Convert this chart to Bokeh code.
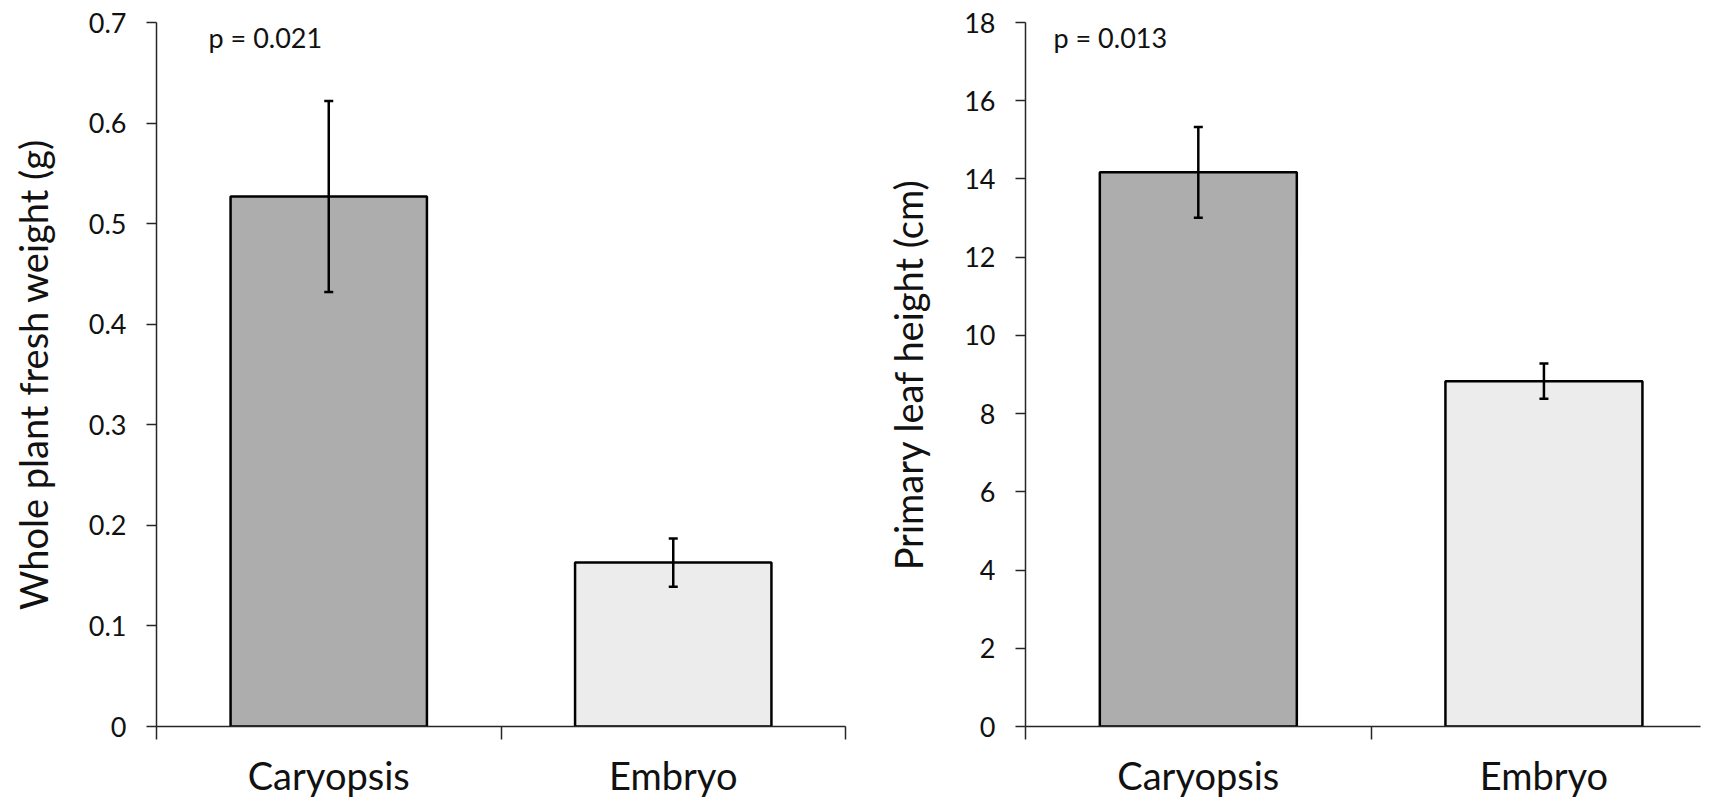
from bokeh.plotting import figure
from bokeh.models import (Range1d, FixedTicker, CustomJSTickFormatter, Whisker,
                          TeeHead, ColumnDataSource, Label)
from bokeh.layouts import row
from bokeh.embed import file_html
from bokeh.resources import INLINE

# ---- data ----
categories = ["Caryopsis", "Embryo"]
weight_mean = [0.527, 0.163]
weight_err = [0.095, 0.024]
height_mean = [14.17, 8.83]
height_err = [1.16, 0.45]
bar_colors = ["#adadad", "#ececec"]
weight_ticks = [0, 0.1, 0.2, 0.3, 0.4, 0.5, 0.6, 0.7]
height_ticks = [0, 2, 4, 6, 8, 10, 12, 14, 16, 18]
weight_label = "Whole plant fresh weight (g)"
height_label = "Primary leaf height (cm)"
p_texts = ["p = 0.021", "p = 0.013"]

FONT = "Lato"
TXT = "#111111"
AX = "#262626"
FIG_H = 800


def panel(means, errs, ticks, ylabel, ptext, pxy, width, bl, br, xend, fmt_code):
    n = len(categories)
    xs = [i + 0.5 for i in range(n)]
    src = ColumnDataSource(dict(
        x=xs, top=means, color=bar_colors[:n],
        upper=[m + e for m, e in zip(means, errs)],
        lower=[m - e for m, e in zip(means, errs)],
    ))
    p = figure(width=width, height=FIG_H, output_backend="svg", toolbar_location=None,
               x_range=Range1d(0, xend), y_range=Range1d(0, ticks[-1]),
               min_border_left=bl, min_border_right=br, min_border_top=22,
               min_border_bottom=FIG_H - 728, background_fill_color="white",
               border_fill_color="white")
    p.outline_line_color = None
    p.grid.grid_line_color = None

    p.vbar(x="x", top="top", width=0.57, bottom=0, source=src, fill_color="color",
           line_color="black", line_width=2.5)
    w = Whisker(base="x", upper="upper", lower="lower", source=src,
                line_color="black", line_width=2.5, level="overlay",
                upper_head=TeeHead(size=9, line_color="black", line_width=2.5),
                lower_head=TeeHead(size=9, line_color="black", line_width=2.5))
    p.add_layout(w)

    # y axis
    ya = p.yaxis[0]
    ya.ticker = FixedTicker(ticks=ticks, minor_ticks=[])
    ya.formatter = CustomJSTickFormatter(code=fmt_code)
    ya.axis_label = ylabel
    ya.axis_label_text_font = FONT
    ya.axis_label_text_font_size = "38px"
    ya.axis_label_text_font_style = "normal"
    ya.axis_label_text_color = TXT
    ya.axis_label_standoff = 30
    ya.major_label_text_font = FONT
    ya.major_label_text_font_size = "27px"
    ya.major_label_text_color = TXT
    ya.major_label_standoff = 20
    ya.major_tick_in = 0
    ya.major_tick_out = 10
    ya.minor_tick_in = 0
    ya.minor_tick_out = 0
    ya.axis_line_color = AX
    ya.axis_line_width = 1.5
    ya.major_tick_line_color = AX
    ya.major_tick_line_width = 1.5

    # x axis: labels at category centres, ticks at category boundaries
    xa = p.xaxis[0]
    xa.ticker = FixedTicker(ticks=xs, minor_ticks=list(range(n + 1)))
    xa.formatter = CustomJSTickFormatter(args=dict(cats=categories),
                                         code="return cats[Math.floor(tick)];")
    xa.major_label_text_font = FONT
    xa.major_label_text_font_size = "38px"
    xa.major_label_text_color = TXT
    xa.major_label_standoff = 12
    xa.major_tick_in = 0
    xa.major_tick_out = 0
    xa.major_tick_line_color = None
    xa.minor_tick_in = 0
    xa.minor_tick_out = 13
    xa.minor_tick_line_color = AX
    xa.minor_tick_line_width = 1.5
    xa.axis_line_color = AX
    xa.axis_line_width = 1.5

    p.add_layout(Label(x=pxy[0], y=pxy[1], y_offset=10, text=ptext, text_font=FONT,
                       text_font_size="27px", text_color=TXT,
                       text_baseline="alphabetic"))
    return p


left = panel(weight_mean, weight_err, weight_ticks, weight_label, p_texts[0],
             (0.151, 0.6755), 880, 156, 35, 2.0,
             "return tick === 0 ? '0' : tick.toFixed(1);")
right = panel(height_mean, height_err, height_ticks, height_label, p_texts[1],
              (0.081, 17.37), 822, 145, 2, 1.953,
              "return tick.toFixed(0);")

layout = row(left, right)
open("out.html", "w").write(file_html(layout, INLINE))
